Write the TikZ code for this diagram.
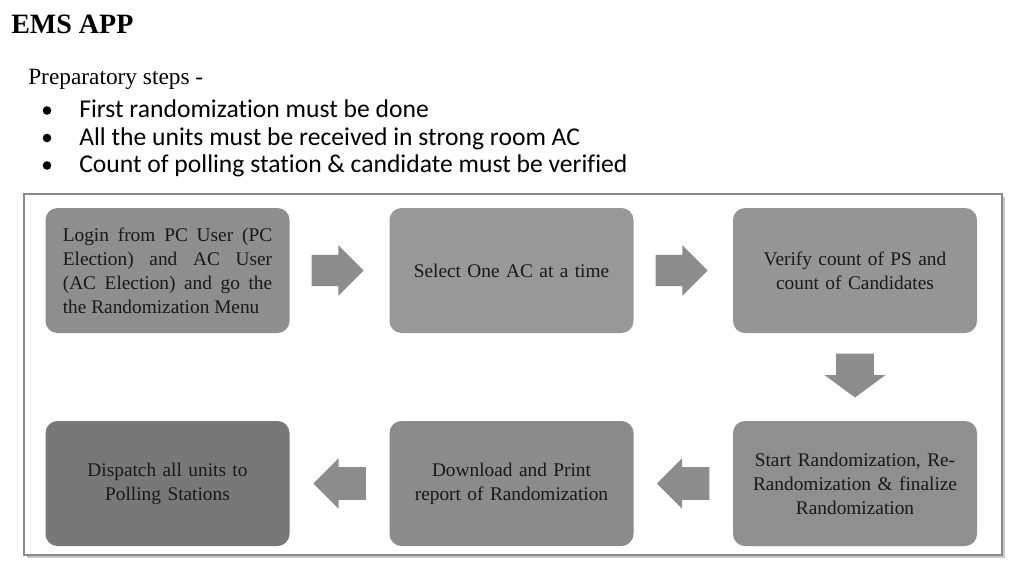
\documentclass[tikz,border=0pt]{standalone}
\usepackage{fontspec}
\setmainfont{Liberation Serif}
\newfontfamily\bulletfont[Ligatures=NoCommon]{Carlito}
\usetikzlibrary{calc,shapes.arrows}

\definecolor{framegray}{HTML}{8A8A8A}
\definecolor{arrowgray}{HTML}{8C8C8C}
\definecolor{boxA}{HTML}{8E8E8E}
\definecolor{boxB}{HTML}{989898}
\definecolor{boxC}{HTML}{959595}
\definecolor{boxD}{HTML}{8F8F8F}
\definecolor{boxE}{HTML}{8B8B8B}
\definecolor{boxF}{HTML}{787878}

\tikzset{
  stepbox/.style={rounded corners=9pt, minimum width=183pt, minimum height=93.75pt,
    text width=165pt, align=center, text=black!90, font=\fontsize{14.5}{18}\selectfont},
  blockarrow/.style={single arrow, fill=arrowgray, inner xsep=0pt, anchor=tail},
}

\begin{document}
\begin{tikzpicture}[x=0.75pt, y=-0.75pt]
  \useasboundingbox (0,0) rectangle (1024,576);

  \node[anchor=base west, inner sep=0, font=\fontsize{21}{24}\selectfont\bfseries] (title) at (11,33) {EMS APP};
  \node[anchor=base west, inner sep=0, font=\fontsize{17.5}{20}\selectfont] (prep) at (28,84) {Preparatory steps -};

  \foreach \txt [count=\i] in {First randomization must be done,
      All the units must be received in strong room AC,
      Count of polling station \& candidate must be verified} {
    \node[anchor=base west, inner sep=0, font=\bulletfont\fontsize{19.2}{22}\selectfont] (item\i) at (79, {90+27.5*\i}) {\txt};
    \fill (47, {83+27.5*\i}) circle (4.3);
  }

  % frame
  \fill[black!22] (27,197) rectangle (1005,558);
  \draw[framegray, line width=1.2pt, fill=white] (24,194) rectangle (1002,555);

  \node[stepbox, fill=boxA, align=justify, text width=157pt] (login) at (167.5,270.5)
    {Login from PC User (PC\linebreak Election) and AC User\linebreak (AC Election) and go the\linebreak the Randomization Menu};
  \node[stepbox, fill=boxB] (select) at (511.5,270.5) {Select One AC at a time};
  \node[stepbox, fill=boxC] (verify) at (855,270.5) {Verify count of PS and\\count of Candidates};
  \node[stepbox, fill=boxD] (start) at (855,483.5) {Start Randomization, Re-\\Randomization \& finalize\\Randomization};
  \node[stepbox, fill=boxE] (report) at (511.5,483.5) {Download and Print\\report of Randomization};
  \node[stepbox, fill=boxF] (dispatch) at (167.5,483.5) {Dispatch all units to\\Polling Stations};

  \node[blockarrow, minimum height=39pt, inner ysep=11.6pt, single arrow head extend=7.1pt]
    (a1) at ($(login.east)+(21.5,0)$) {};
  \node[blockarrow, minimum height=39pt, inner ysep=11.6pt, single arrow head extend=7.1pt]
    (a2) at ($(select.east)+(21.5,0)$) {};
  \node[blockarrow, rotate=-90, minimum height=33pt, inner ysep=13.9pt, single arrow head extend=8.6pt,
    single arrow tip angle=107] (a3) at ($(verify.south)+(0,20)$) {};
  \node[blockarrow, rotate=180, minimum height=39.5pt, inner ysep=12pt, single arrow head extend=6.7pt]
    (a4) at ($(start.west)+(-23,0)$) {};
  \node[blockarrow, rotate=180, minimum height=39.5pt, inner ysep=12pt, single arrow head extend=6.7pt]
    (a5) at ($(report.west)+(-23,0)$) {};
\end{tikzpicture}
\end{document}
